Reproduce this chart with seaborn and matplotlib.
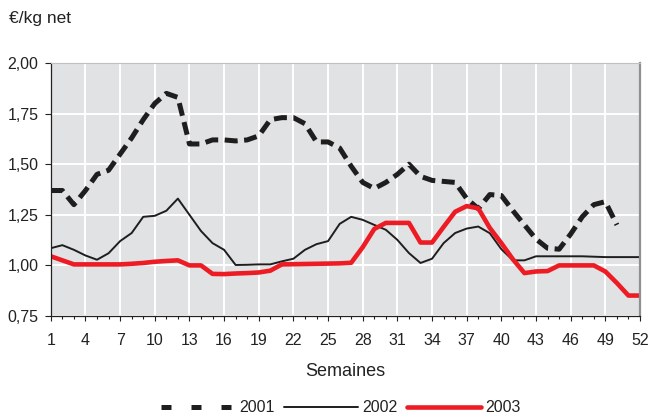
import numpy as np
import pandas as pd
import seaborn as sns
import matplotlib
matplotlib.use("Agg")
from matplotlib import pyplot as plt
from matplotlib.lines import Line2D
from matplotlib.ticker import FixedLocator, MultipleLocator, FuncFormatter

weeks = list(range(1, 53))
nan = np.nan

s2001 = [1.37, 1.37, 1.30, 1.37, 1.45, 1.47, 1.55, 1.63, 1.72, 1.80,
         1.85, 1.83, 1.60, 1.60, 1.62, 1.62, 1.615, 1.62, 1.64, 1.72,
         1.73, 1.73, 1.70, 1.61, 1.61, 1.58, 1.49, 1.41, 1.38, 1.41,
         1.45, 1.50, 1.44, 1.42, 1.415, 1.41, 1.33, 1.28, 1.35, 1.345,
         1.27, 1.20, 1.13, 1.085, 1.08, 1.155, 1.24, 1.30, 1.315, 1.20,
         nan, nan]
s2002 = [1.085, 1.10, 1.077, 1.049, 1.028, 1.06, 1.12, 1.16, 1.24, 1.245,
         1.27, 1.33, 1.25, 1.17, 1.11, 1.077, 1.002, 1.003, 1.005, 1.005,
         1.02, 1.033, 1.077, 1.105, 1.12, 1.205, 1.24, 1.225, 1.20, 1.176,
         1.126, 1.061, 1.012, 1.033, 1.11, 1.16, 1.182, 1.192, 1.159, 1.08,
         1.025, 1.025, 1.045, 1.045, 1.045, 1.045, 1.045, 1.043, 1.041, 1.041,
         1.041, 1.041]
s2003 = [1.045, 1.025, 1.005, 1.005, 1.005, 1.005, 1.005, 1.008, 1.012, 1.018,
         1.022, 1.025, 1.0, 1.0, 0.958, 0.957, 0.96, 0.962, 0.965, 0.974,
         1.005, 1.006, 1.007, 1.008, 1.009, 1.01, 1.013, 1.09, 1.18, 1.21,
         1.21, 1.21, 1.113, 1.113, 1.19, 1.265, 1.293, 1.282, 1.185, 1.11,
         1.03, 0.962, 0.97, 0.972, 1.0, 1.0, 1.0, 1.0, 0.97, 0.913,
         0.851, 0.851]

year_labels = ["2001", "2002", "2003"]
x_ticks = list(range(1, 53, 3))
y_ticks = [0.75, 1.00, 1.25, 1.50, 1.75, 2.00]

sns.set_style("whitegrid", {"axes.facecolor": "#e1e2e4", "grid.color": "white",
                            "axes.edgecolor": "#222222"})
plt.rcParams['font.family'] = ['Liberation Sans', 'DejaVu Sans']

fig = plt.figure(figsize=(6.51, 4.17), dpi=100)
ax = fig.add_axes([50.8 / 651, 1 - 316 / 417, (640 - 50.8) / 651, (316 - 63) / 417])

sns.lineplot(x=weeks, y=s2001, ax=ax, color="#1e1e1e", lw=3.6,
             linestyle=(0, (2.6, 1.3)))
sns.lineplot(x=weeks, y=s2002, ax=ax, color="#1e1e1e", lw=1.4)
sns.lineplot(x=weeks, y=s2003, ax=ax, color="#ed1c24", lw=3.3)

ax.set_xlim(1, 52)
ax.set_ylim(0.75, 2.00)
ax.xaxis.set_major_locator(FixedLocator(x_ticks))
ax.xaxis.set_minor_locator(MultipleLocator(1))
ax.yaxis.set_major_locator(FixedLocator(y_ticks))
ax.yaxis.set_major_formatter(FuncFormatter(lambda v, p: f"{v:.2f}".replace(".", ",")))
ax.grid(True, which="major", color="white", lw=1.4)
ax.tick_params(axis="both", which="major", direction="out", width=0.8,
               color="#222222", labelsize=11.5, labelcolor="#222222",
               bottom=True, left=True)
ax.tick_params(axis="x", which="major", length=3.6, pad=8.5)
ax.tick_params(axis="y", which="major", length=4.3, pad=4.5)
ax.tick_params(axis="x", which="minor", direction="out", length=2.2, width=0.8,
               color="#222222", bottom=True)
ax.set_xlabel("")
ax.set_ylabel("")

for side in ["left", "bottom"]:
    ax.spines[side].set_color("#222222")
    ax.spines[side].set_linewidth(0.9)
ax.spines["right"].set_color("#909090")
ax.spines["right"].set_linewidth(1.6)
ax.spines["top"].set_color("#c0c0c0")
ax.spines["top"].set_linewidth(0.8)

fig.text(9 / 651, 1 - 23 / 417, "€/kg net", ha="left", va="baseline",
         fontsize=12.5, color="#222222")
fig.text(345 / 651, 1 - 371 / 417, "Semaines", ha="center", va="center",
         fontsize=13, color="#222222")

handles = [
    Line2D([], [], color="#1e1e1e", lw=3.6, linestyle=(0, (2.0, 4.0))),
    Line2D([], [], color="#1e1e1e", lw=1.4),
    Line2D([], [], color="#ed1c24", lw=3.3, solid_capstyle="round"),
]
ax.legend(handles, year_labels, loc="center", bbox_to_anchor=(341 / 651, 1 - 408 / 417),
          bbox_transform=fig.transFigure, ncol=3, frameon=False,
          handlelength=4.6, handletextpad=0.3, columnspacing=0.6,
          fontsize=11.5, labelcolor="#222222")

fig.savefig("out.png", dpi=100)
